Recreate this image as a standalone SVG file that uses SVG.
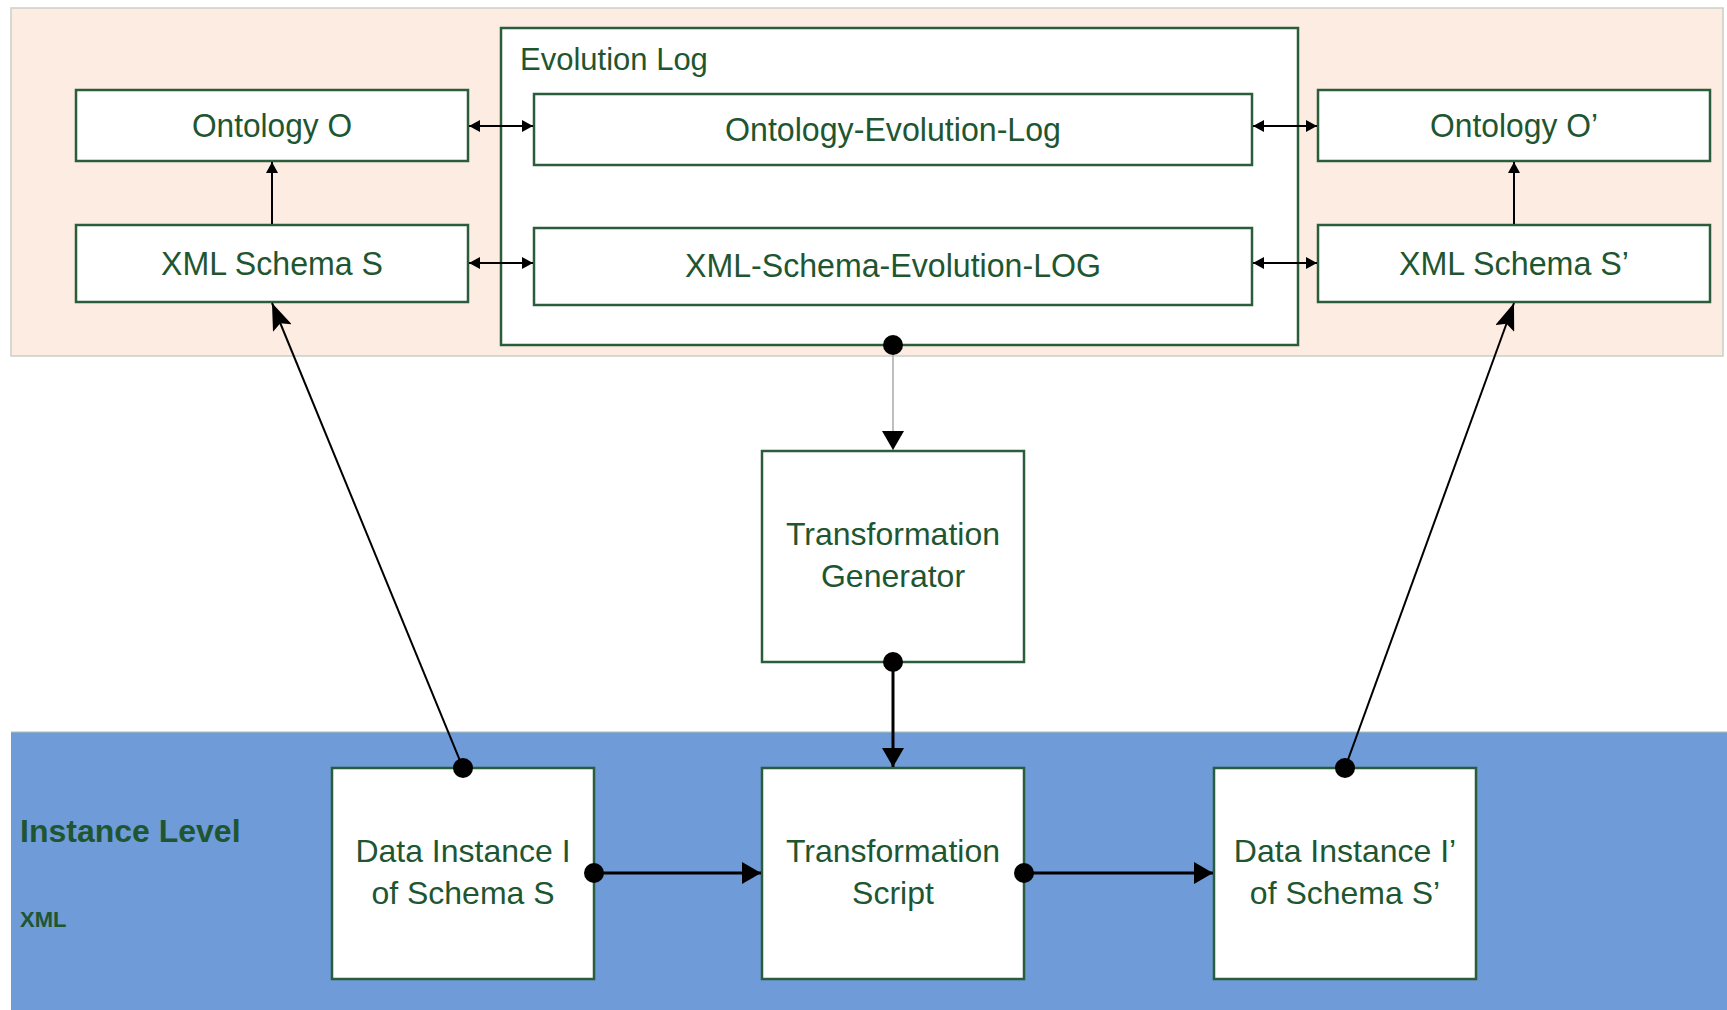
<svg xmlns="http://www.w3.org/2000/svg" width="1727" height="1010" viewBox="0 0 1727 1010">
  <style>
    .box { fill: #ffffff; stroke: #2b5c3b; stroke-width: 2.5; }
    .lbl { font-family: "Liberation Sans", Arial, sans-serif; font-size: 32px; fill: #1f5632; text-anchor: middle; }
    .conn { stroke: #000; fill: none; }
    .dot { fill: #000; }
  </style>
  <defs>
    <marker id="small" markerUnits="userSpaceOnUse" markerWidth="12" markerHeight="12" refX="11" refY="6" orient="auto-start-reverse">
      <path d="M0,0 L11,6 L0,12 z" fill="#000"/>
    </marker>
    <marker id="big" markerUnits="userSpaceOnUse" markerWidth="20" markerHeight="22" refX="19" refY="11" orient="auto">
      <path d="M0,0 L19,11 L0,22 z" fill="#000"/>
    </marker>
    <marker id="diag" markerUnits="userSpaceOnUse" markerWidth="28" markerHeight="20" refX="27" refY="10" orient="auto">
      <path d="M0,0 L27,10 L0,20 L5,10 z" fill="#000"/>
    </marker>
  </defs>

  <!-- background panels -->
  <rect x="0" y="0" width="1727" height="1010" fill="#ffffff"/>
  <rect id="panel-top" x="11" y="8" width="1712" height="348" fill="#fcece1" stroke="#c9d0c8" stroke-width="1.5"/>
  <rect id="panel-bottom" x="11" y="732" width="1716" height="278" fill="#6f9bd8"/>
  <line x1="11" y1="732" x2="1727" y2="732" stroke="#a9c3b6" stroke-width="1"/>

  <!-- nodes -->
  <g id="evolution-log">
    <rect class="box" x="501" y="28" width="797" height="317"/>
    <text x="520" y="70" class="lbl" style="text-anchor:start; font-size:31px">Evolution Log</text>
  </g>
  <g id="ontology-o">
    <rect class="box" x="76" y="90" width="392" height="71"/>
    <text x="272" y="137" class="lbl" style="font-size:33px" textLength="160" lengthAdjust="spacingAndGlyphs">Ontology O</text>
  </g>
  <g id="xml-schema-s">
    <rect class="box" x="76" y="225" width="392" height="77"/>
    <text x="272" y="275" class="lbl" style="font-size:33px" textLength="222" lengthAdjust="spacingAndGlyphs">XML Schema S</text>
  </g>
  <g id="ontology-evolution-log">
    <rect class="box" x="534" y="94" width="718" height="71"/>
    <text x="893" y="141" class="lbl" style="font-size:33px" textLength="336" lengthAdjust="spacingAndGlyphs">Ontology-Evolution-Log</text>
  </g>
  <g id="xml-schema-evolution-log">
    <rect class="box" x="534" y="228" width="718" height="77"/>
    <text x="893" y="277" class="lbl" style="font-size:33px" textLength="416" lengthAdjust="spacingAndGlyphs">XML-Schema-Evolution-LOG</text>
  </g>
  <g id="ontology-o-prime">
    <rect class="box" x="1318" y="90" width="392" height="71"/>
    <text x="1514" y="137" class="lbl" style="font-size:33px" textLength="168" lengthAdjust="spacingAndGlyphs">Ontology O’</text>
  </g>
  <g id="xml-schema-s-prime">
    <rect class="box" x="1318" y="225" width="392" height="77"/>
    <text x="1514" y="275" class="lbl" style="font-size:33px" textLength="230" lengthAdjust="spacingAndGlyphs">XML Schema S’</text>
  </g>
  <g id="transformation-generator">
    <rect class="box" x="762" y="451" width="262" height="211"/>
    <text x="893" y="545" class="lbl">Transformation</text>
    <text x="893" y="587" class="lbl">Generator</text>
  </g>
  <g id="data-instance-i">
    <rect class="box" x="332" y="768" width="262" height="211"/>
    <text x="463" y="862" class="lbl">Data Instance I</text>
    <text x="463" y="904" class="lbl">of Schema S</text>
  </g>
  <g id="transformation-script">
    <rect class="box" x="762" y="768" width="262" height="211"/>
    <text x="893" y="862" class="lbl">Transformation</text>
    <text x="893" y="904" class="lbl">Script</text>
  </g>
  <g id="data-instance-i-prime">
    <rect class="box" x="1214" y="768" width="262" height="211"/>
    <text x="1345" y="862" class="lbl">Data Instance I’</text>
    <text x="1345" y="904" class="lbl">of Schema S’</text>
  </g>
  <g id="instance-level-label">
    <text x="20" y="842" style="font-family:'Liberation Sans', Arial, sans-serif; font-size:32px; font-weight:bold; fill:#1f5632">Instance Level</text>
    <text x="20" y="927" style="font-family:'Liberation Sans', Arial, sans-serif; font-size:22px; font-weight:bold; fill:#1f5632">XML</text>
  </g>

  <!-- connectors -->
  <g id="connectors">
    <line class="conn" x1="469" y1="126" x2="533" y2="126" stroke-width="2" marker-start="url(#small)" marker-end="url(#small)"/>
    <line class="conn" x1="469" y1="263" x2="533" y2="263" stroke-width="2" marker-start="url(#small)" marker-end="url(#small)"/>
    <line class="conn" x1="1253" y1="126" x2="1317" y2="126" stroke-width="2" marker-start="url(#small)" marker-end="url(#small)"/>
    <line class="conn" x1="1253" y1="263" x2="1317" y2="263" stroke-width="2" marker-start="url(#small)" marker-end="url(#small)"/>
    <line class="conn" x1="272" y1="224" x2="272" y2="162" stroke-width="2" marker-end="url(#small)"/>
    <line class="conn" x1="1514" y1="224" x2="1514" y2="162" stroke-width="2" marker-end="url(#small)"/>

    <line x1="893" y1="345" x2="893" y2="450" stroke="#a8a8a8" stroke-width="1.5" marker-end="url(#big)"/>
    <line class="conn" x1="893" y1="662" x2="893" y2="767" stroke-width="3" marker-end="url(#big)"/>
    <line class="conn" x1="594" y1="873" x2="761" y2="873" stroke-width="3" marker-end="url(#big)"/>
    <line class="conn" x1="1024" y1="873" x2="1213" y2="873" stroke-width="3" marker-end="url(#big)"/>

    <line class="conn" x1="463" y1="768" x2="272" y2="303" stroke-width="2" marker-end="url(#diag)"/>
    <line class="conn" x1="1345" y1="768" x2="1514" y2="303" stroke-width="2" marker-end="url(#diag)"/>

    <circle class="dot" cx="893" cy="345" r="10"/>
    <circle class="dot" cx="893" cy="662" r="10"/>
    <circle class="dot" cx="463" cy="768" r="10"/>
    <circle class="dot" cx="1345" cy="768" r="10"/>
    <circle class="dot" cx="594" cy="873" r="10"/>
    <circle class="dot" cx="1024" cy="873" r="10"/>
  </g>
</svg>
